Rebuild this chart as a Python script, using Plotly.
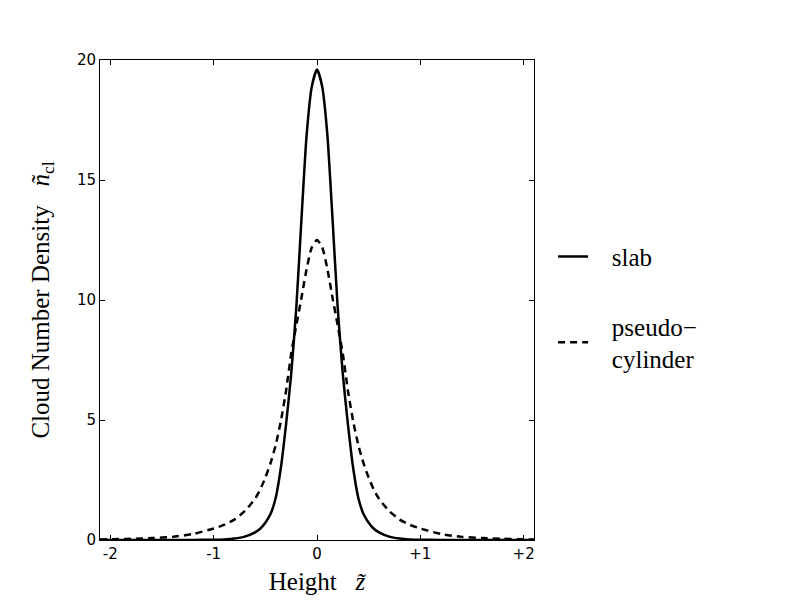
import plotly.graph_objects as go

# Height z~ (sampling positions)
z = [-2.1, -2.0, -1.8, -1.6, -1.4, -1.2, -1.0, -0.9, -0.8, -0.7, -0.6, -0.55,
     -0.5, -0.45, -0.4, -0.35, -0.3, -0.25, -0.2, -0.15, -0.1, -0.05, 0.0,
     0.05, 0.1, 0.15, 0.2, 0.25, 0.3, 0.35, 0.4, 0.45, 0.5, 0.55, 0.6, 0.7,
     0.8, 0.9, 1.0, 1.2, 1.4, 1.6, 1.8, 2.0, 2.1]

# slab profile (solid)
slab = [0.0, 0.0, 0.0, 0.0, 0.001, 0.003, 0.01, 0.025, 0.06, 0.14, 0.32, 0.47,
        0.72, 1.08, 1.75, 3.0, 4.8, 6.9, 9.7, 13.4, 16.9, 18.9, 19.6,
        18.9, 16.9, 13.4, 9.7, 6.9, 4.8, 3.0, 1.75, 1.08, 0.72, 0.47, 0.32, 0.14,
        0.06, 0.025, 0.01, 0.003, 0.001, 0.0, 0.0, 0.0, 0.0]

# pseudo-cylinder profile (dashed)
pseudo = [0.02, 0.03, 0.05, 0.08, 0.13, 0.25, 0.48, 0.63, 0.85, 1.2, 1.72, 2.1,
          2.6, 3.2, 3.95, 4.95, 6.2, 7.75, 8.95, 10.1, 11.3, 12.2, 12.5,
          12.2, 11.3, 10.1, 8.95, 7.75, 6.2, 4.95, 3.95, 3.2, 2.6, 2.1, 1.72, 1.2,
          0.85, 0.63, 0.48, 0.25, 0.13, 0.08, 0.05, 0.03, 0.02]

x_tickvals = [-2, -1, 0, 1, 2]
x_ticktext = ["-2", "-1", "0", "+1", "+2"]
y_tickvals = [0, 5, 10, 15, 20]

SERIF = "Liberation Serif, DejaVu Serif, serif"
SANS = "DejaVu Sans"
NB = "\u00a0"

fig = go.Figure()
fig.add_trace(go.Scatter(
    x=z, y=slab, mode="lines", name=NB * 3 + "slab",
    line=dict(color="black", width=2.5, shape="spline", smoothing=0.6),
    legendgroup="a",
))
fig.add_trace(go.Scatter(
    x=z, y=pseudo, mode="lines", name=NB * 3 + "pseudo\u2212<br>" + NB * 3 + "cylinder",
    line=dict(color="black", width=2.5, dash="7px,5px", shape="spline", smoothing=0.6),
    legendgroup="b",
))

axis_common = dict(
    showline=True, linecolor="black", linewidth=1, mirror="ticks",
    ticks="inside", ticklen=5, tickwidth=1, tickcolor="black",
    showgrid=False, zeroline=False, automargin=False,
    tickfont=dict(family=SANS, size=15, color="black"),
)

fig.update_layout(
    width=800, height=600,
    font=dict(family=SERIF, size=25, color="black"),
    paper_bgcolor="white", plot_bgcolor="white",
    margin=dict(l=100, r=266, t=60, b=60),
    xaxis=dict(range=[-2.1, 2.1], tickmode="array", tickvals=x_tickvals,
               ticktext=x_ticktext,
               title=dict(text="Height" + NB * 3 + "<i>z\u0303</i>",
                          font=dict(family=SERIF, size=25, color="black"),
                          standoff=10),
               **axis_common),
    yaxis=dict(range=[0, 20], tickmode="array", tickvals=y_tickvals,
               title=dict(text="Cloud Number Density" + NB * 3 + "<i>\u00f1</i><sub>cl</sub>",
                          font=dict(family=SERIF, size=25, color="black"),
                          standoff=20),
               **axis_common),
    legend=dict(x=1.044, y=0.638, xanchor="left", yanchor="top",
                font=dict(family=SERIF, size=25, color="black"),
                bgcolor="rgba(0,0,0,0)", borderwidth=0,
                tracegroupgap=34, itemwidth=30),
    showlegend=True,
)

fig.write_html(
    "out.html",
    config={"displayModeBar": False},
    post_script="document.body.style.margin='0px';document.body.style.overflow='hidden';",
)
